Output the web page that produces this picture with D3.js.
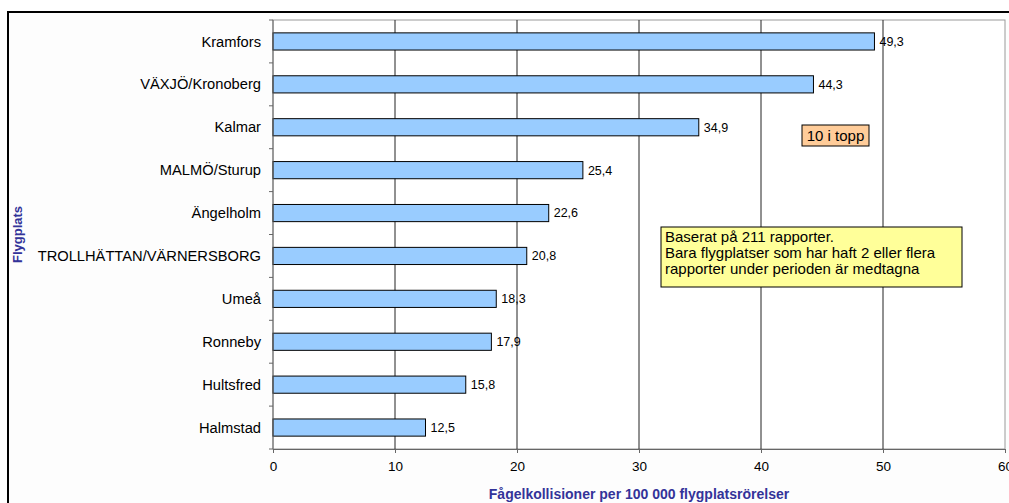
<!DOCTYPE html>
<html lang="sv">
  <head>
    <meta charset="UTF-8">
    <title>Fågelkollisioner</title>
    <style>
body{
    margin: 0;
    background: #fff;
}
svg text{
    font-family: Arial, "Liberation Sans", sans-serif;
}
    </style>
  </head>
  <body>
    <script src="https://cdn.jsdelivr.net/npm/d3@7/dist/d3.min.js"></script>
    <script>
// data
var airports = ["Kramfors", "VÄXJÖ/Kronoberg", "Kalmar", "MALMÖ/Sturup", "Ängelholm",
                "TROLLHÄTTAN/VÄRNERSBORG", "Umeå", "Ronneby", "Hultsfred", "Halmstad"];
var rates = [49.3, 44.3, 34.9, 25.4, 22.6, 20.8, 18.3, 17.9, 15.8, 12.5];
var xTicks = [0, 10, 20, 30, 40, 50, 60];
var noteLines = ["Baserat på 211 rapporter.",
                 "Bara flygplatser som har haft 2 eller flera",
                 "rapporter under perioden är medtagna"];

var width = 1009, height = 503;
var pLeft = 273, pRight = 1005, pTop = 20, pBottom = 449;

var svg = d3.select("body").append("svg")
            .attr("width", width)
            .attr("height", height);

// outer frame
svg.append("rect")
   .attr("x", 8).attr("y", 12)
   .attr("width", 1010).attr("height", 500)
   .attr("fill", "#fdfdfd")
   .attr("stroke", "#000")
   .attr("stroke-width", 2);

var x = d3.scaleLinear().domain([0, 60]).range([pLeft, pRight]);
var y = d3.scaleBand().domain(airports).range([pTop, pBottom]).paddingInner(0.6).paddingOuter(0.3);

// plot area
svg.append("rect")
   .attr("x", pLeft).attr("y", pTop)
   .attr("width", pRight - pLeft).attr("height", pBottom - pTop)
   .attr("fill", "#fff")
   .attr("stroke", "#999");

// grid
svg.selectAll("line.grid")
   .data(xTicks.slice(1, -1))
   .enter().append("line")
   .attr("class", "grid")
   .attr("x1", d => x(d)).attr("x2", d => x(d))
   .attr("y1", pTop).attr("y2", pBottom)
   .attr("stroke", "#222");

// bars
svg.selectAll("rect.bar")
   .data(rates)
   .enter().append("rect")
   .attr("class", "bar")
   .attr("x", x(0))
   .attr("y", (d, i) => y(airports[i]))
   .attr("width", d => x(d) - x(0))
   .attr("height", y.bandwidth())
   .attr("fill", "#99ccff")
   .attr("stroke", "#000");

// value labels
svg.selectAll("text.val")
   .data(rates)
   .enter().append("text")
   .attr("class", "val")
   .attr("x", d => x(d) + 5)
   .attr("y", (d, i) => y(airports[i]) + y.bandwidth() / 2)
   .attr("dy", "0.35em")
   .attr("font-size", 12.5)
   .text(d => d.toFixed(1).replace(".", ","));

// x axis
var xAxis = svg.append("g")
   .attr("transform", "translate(0," + pBottom + ")")
   .call(d3.axisBottom(x).tickValues(xTicks).tickSize(4).tickPadding(8));
xAxis.select(".domain").attr("stroke", "#666");
xAxis.selectAll(".tick line").attr("stroke", "#666");
xAxis.selectAll("text").attr("font-size", 13.5).attr("fill", "#000")
     .attr("font-family", "Arial, 'Liberation Sans', sans-serif");

// y axis: ticks at band boundaries
var step = (pBottom - pTop) / airports.length;
svg.append("line")
   .attr("x1", pLeft).attr("x2", pLeft)
   .attr("y1", pTop).attr("y2", pBottom)
   .attr("stroke", "#666");
svg.selectAll("line.ytick")
   .data(d3.range(airports.length + 1))
   .enter().append("line")
   .attr("class", "ytick")
   .attr("x1", pLeft - 4).attr("x2", pLeft)
   .attr("y1", d => pTop + d * step).attr("y2", d => pTop + d * step)
   .attr("stroke", "#666");
svg.selectAll("text.cat")
   .data(airports)
   .enter().append("text")
   .attr("class", "cat")
   .attr("x", pLeft - 12)
   .attr("y", d => y(d) + y.bandwidth() / 2)
   .attr("dy", "0.35em")
   .attr("text-anchor", "end")
   .attr("font-size", 14.7)
   .text(d => d);

// axis titles
svg.append("text")
   .attr("x", (pLeft + pRight) / 2).attr("y", 499)
   .attr("text-anchor", "middle")
   .attr("font-size", 14)
   .attr("font-weight", "bold")
   .attr("fill", "#333399")
   .text("Fågelkollisioner per 100 000 flygplatsrörelser");
svg.append("text")
   .attr("transform", "translate(22," + (pTop + pBottom) / 2 + ") rotate(-90)")
   .attr("text-anchor", "middle")
   .attr("font-size", 13)
   .attr("font-weight", "bold")
   .attr("fill", "#333399")
   .text("Flygplats");

// "10 i topp" box
svg.append("rect")
   .attr("x", 802).attr("y", 125)
   .attr("width", 67).attr("height", 21)
   .attr("fill", "#ffcc99")
   .attr("stroke", "#000");
svg.append("text")
   .attr("x", 835.5).attr("y", 141)
   .attr("text-anchor", "middle")
   .attr("font-size", 15)
   .text("10 i topp");

// note box
svg.append("rect")
   .attr("x", 661).attr("y", 227)
   .attr("width", 301).attr("height", 60)
   .attr("fill", "#ffff99")
   .attr("stroke", "#000");
svg.selectAll("text.note")
   .data(noteLines)
   .enter().append("text")
   .attr("class", "note")
   .attr("x", 665)
   .attr("y", (d, i) => 242 + i * 16)
   .attr("font-size", 15)
   .text(d => d);
    </script>
  </body>
</html>
